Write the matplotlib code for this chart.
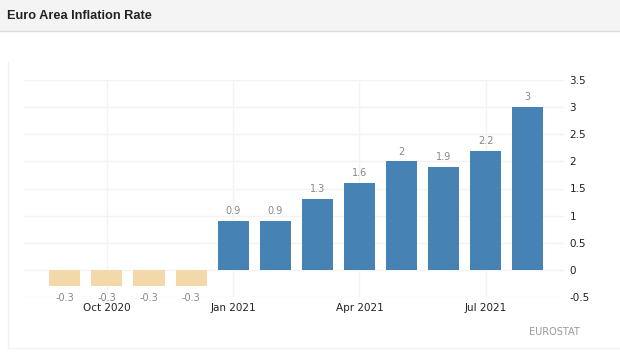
import matplotlib.pyplot as plt
from matplotlib.patches import Rectangle
from matplotlib.lines import Line2D

months = ['Sep 2020', 'Oct 2020', 'Nov 2020', 'Dec 2020', 'Jan 2021', 'Feb 2021',
          'Mar 2021', 'Apr 2021', 'May 2021', 'Jun 2021', 'Jul 2021', 'Aug 2021']
rates = [-0.3, -0.3, -0.3, -0.3, 0.9, 0.9, 1.3, 1.6, 2.0, 1.9, 2.2, 3.0]
tick_months = ['Oct 2020', 'Jan 2021', 'Apr 2021', 'Jul 2021']
y_ticks = [-0.5, 0, 0.5, 1, 1.5, 2, 2.5, 3, 3.5]

BLUE = '#4682b4'
TAN = '#f3d9aa'

fig = plt.figure(figsize=(6.2, 3.59), dpi=100)
fig.patch.set_facecolor('white')

# header band
fig.patches.append(Rectangle((0, 1 - 31 / 359), 1, 31 / 359, transform=fig.transFigure,
                             facecolor='#f4f4f4', edgecolor='none', zorder=0))
fig.lines.append(Line2D([0, 1], [1 - 31 / 359] * 2, transform=fig.transFigure,
                        color='#dcdcdc', lw=1))
fig.text(7 / 620, 1 - 16 / 359, 'Euro Area Inflation Rate', fontsize=9.2,
         fontweight='bold', color='#222222', family='Liberation Sans', va='center')

# panel borders
fig.lines.append(Line2D([8 / 620] * 2, [1 - 62 / 359, 1 - 347 / 359],
                        transform=fig.transFigure, color='#f2f2f2', lw=1))
fig.lines.append(Line2D([8 / 620, 1], [1 - 348 / 359] * 2,
                        transform=fig.transFigure, color='#f2f2f2', lw=1))

ax = fig.add_axes([24 / 620, 62 / 359, 540 / 620, 217 / 359])
x = list(range(len(months)))
colors = [BLUE if v >= 0 else TAN for v in rates]
ax.bar(x, rates, width=0.74, color=colors, zorder=3)

for xi, v in zip(x, rates):
    label = f'{v:g}'
    if v >= 0:
        ax.annotate(label, (xi, v), xytext=(0, 3.5), textcoords='offset points',
                    ha='center', va='bottom', fontsize=7, color='#888888')
    else:
        ax.annotate(label, (xi, v), xytext=(0, -5), textcoords='offset points',
                    ha='center', va='top', fontsize=7, color='#888888')

ax.set_xlim(-0.97, 11.86)
ax.set_ylim(-0.5, 3.5)
ax.set_xticks([months.index(m) for m in tick_months])
ax.set_xticklabels(tick_months)
ax.set_yticks(y_ticks)
ax.set_yticklabels([f'{t:g}' for t in y_ticks])
ax.yaxis.tick_right()
ax.tick_params(axis='both', length=0, labelsize=7.5, colors='#222222')
ax.tick_params(axis='y', pad=4)
ax.tick_params(axis='x', pad=4)
ax.grid(True, color='#f3f3f3', lw=1, zorder=0)
for s in ax.spines.values():
    s.set_visible(False)

fig.text(580 / 620, 1 - 332 / 359, 'EUROSTAT', fontsize=7, color='#999999',
         ha='right', va='center')

fig.savefig('out.png', dpi=100)
